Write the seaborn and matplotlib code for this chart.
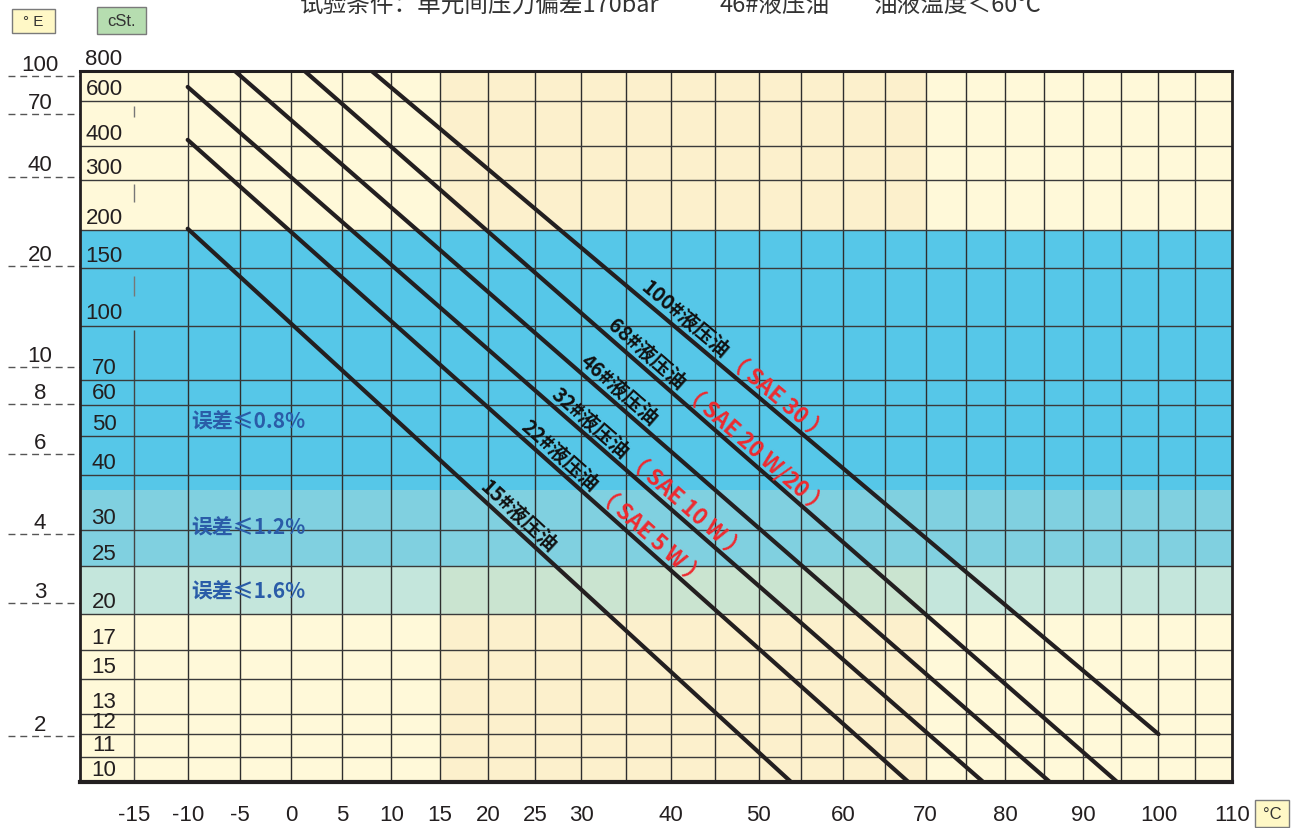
"""
Viscosity-temperature chart for hydraulic oils (ASTM style axes).
"""
import numpy as np
import pandas as pd
import matplotlib
matplotlib.use("Agg")
import matplotlib.pyplot as plt
import seaborn as sns
from matplotlib.patches import Rectangle
from matplotlib.font_manager import FontProperties

# oil lines, end points (temperature in C, viscosity in cSt)
oil_names = ["15#", "22#", "32#", "46#", "68#", "100#"]
sae_grades = ["", "SAE 5 W", "SAE 10 W", "", "SAE 20 W/20", "SAE 30"]
t_start = [-10.0, -10.0, -10.0, -5.5, 1.3, 8.0]
v_start = [202, 422, 686, 800, 800, 800]
t_end = [53.8, 67.9, 77.2, 85.7, 94.5, 100.0]
v_end = [10, 10, 10, 10, 10, 12]
label_t = [18.6, 23.0, 26.2, 29.3, 32.3, 36.0]   # where each label starts on its line

# accuracy bands (cSt)
band_low = [37, 25, 20]
band_high = [200, 37, 25]
band_text = ["误差≤0.8%", "误差≤1.2%", "误差≤1.6%"]
band_text_v = [54.6, 30.4, 22.2]

# axes
cst_grid = [10, 11, 12, 13, 15, 17, 20, 25, 30, 40, 50, 60, 70, 100, 150, 200, 300, 400, 600, 800]
engler = [100, 70, 40, 20, 10, 8, 6, 4, 3, 2]
engler_cst = [762, 533, 307, 152, 76, 60.5, 45, 29.3, 21, 11.9]
x_major = [-15, -10, -5, 0, 5, 10, 15, 20, 25, 30, 40, 50, 60, 70, 80, 90, 100, 110]
x_minor = [35, 45, 55, 65, 75, 85, 95, 105]
t_grid = list(range(-10, 110, 5))

title_parts = ["试验条件：单元间压力偏差170bar", "46#液压油", "油液温度＜60℃"]


def t_fwd(t):
    return np.log10(np.asarray(t, float) + 273.15)


def t_inv(x):
    return 10 ** np.asarray(x, float) - 273.15


def v_fwd(v):
    with np.errstate(all="ignore"):
        return np.log10(np.log10(np.asarray(v, float) + 0.7))


def v_inv(y):
    return 10 ** (10 ** np.asarray(y, float)) - 0.7


sns.set_style("white")
plt.rcParams["font.family"] = ["Liberation Sans", "Noto Sans CJK SC", "DejaVu Sans"]
CJK = ["Noto Sans CJK SC", "DejaVu Sans"]

W, H = 1294, 829
fig = plt.figure(figsize=(W / 100, H / 100), dpi=100)
ax = fig.add_axes([80 / W, 1 - 783 / H, 1152 / W, 711 / H])
ax.set_xscale("function", functions=(t_fwd, t_inv))
ax.set_yscale("function", functions=(v_fwd, v_inv))
ax.set_xlim(-20, 110)
ax.set_ylim(10, 800)

# backgrounds
yellow, stripe = "#fff9d9", "#fcf0cc"
ax.axhspan(10, 800, color=yellow, lw=0, zorder=0)
ax.fill_between([15, 70], 10, 800, color=stripe, lw=0, zorder=0.1)
for lo, hi, c in zip(band_low, band_high, ["#56c7e8", "#80d0e0", "#c4e6dc"]):
    ax.axhspan(lo, hi, color=c, lw=0, zorder=0.2)
ax.fill_between([15, 70], band_low[2], band_high[2], color="#cae4d0", lw=0, zorder=0.3)

# grid
ax.vlines(t_grid, 10, 800, color="#2e2e2e", lw=1.0, zorder=1)
ax.vlines(-15, 10, 97, color="#444444", lw=1.0, zorder=1)
ax.vlines([-15, -15, -15], [519, 250, 123], [574, 290, 142], color="#777777", lw=1.0, zorder=1)
ax.hlines(cst_grid[1:-1], -20, 110, color="#3a3a3a", lw=1.0, zorder=1)

# oil lines
lines = pd.DataFrame({
    "oil": np.repeat(oil_names, 2),
    "temp": np.ravel(np.column_stack([t_start, t_end])),
    "cst": np.ravel(np.column_stack([v_start, v_end])),
})
sns.lineplot(data=lines, x="temp", y="cst", units="oil", estimator=None, sort=False,
             color="#231f20", lw=3, ax=ax, zorder=3)
ax.set_xlabel("")
ax.set_ylabel("")

# spines
for side, lw in [("top", 2.2), ("left", 2.0), ("right", 2.0), ("bottom", 3.0)]:
    ax.spines[side].set_visible(True)
    ax.spines[side].set_linewidth(lw)
    ax.spines[side].set_color("#231f20")
    ax.spines[side].set_zorder(4)

# x ticks
ax.set_xticks(x_major, [str(v) for v in x_major])
ax.set_xticks(x_minor, minor=True)
ax.tick_params(axis="x", which="both", direction="out", length=12, width=1,
               color="#555555", labelsize=16, pad=4, labelcolor="#231f20")
ax.xaxis.get_major_ticks()[-1].tick1line.set_visible(False)
ax.set_yticks([])

# cSt labels inside left column
for v in cst_grid:
    ax.annotate(str(v), (0.0208, v), xycoords=ax.get_yaxis_transform(),
                xytext=(0, 1.5), textcoords="offset points",
                ha="center", va="bottom", fontsize=16, color="#231f20", zorder=5)

# Engler scale outside
for e, v in zip(engler, engler_cst):
    ax.plot([-0.0625, 0], [v, v], transform=ax.get_yaxis_transform(), clip_on=False,
            ls=(0, (5, 3.5)), color="#555555", lw=1)
    ax.annotate(str(e), (-0.0347, v), xycoords=ax.get_yaxis_transform(),
                xytext=(0, 1), textcoords="offset points",
                ha="center", va="bottom", fontsize=16, color="#231f20", annotation_clip=False)

# band captions
for s, v in zip(band_text, band_text_v):
    ax.text(-9.7, v, s, ha="left", va="center", fontsize=15, fontweight="bold",
            color="#2a5ca8", family=CJK, zorder=5)

# oil labels along the lines
renderer = fig.canvas.get_renderer()
fp_black = FontProperties(family=CJK, size=14.5, weight="bold")
fp_red = FontProperties(family=CJK, size=16, weight="bold")
inv = ax.transData.inverted()
for i, name in enumerate(oil_names):
    p0 = ax.transData.transform((t_start[i], v_start[i]))
    p1 = ax.transData.transform((t_end[i], v_end[i]))
    d = p1 - p0
    ang = np.arctan2(d[1], d[0])
    frac = (t_fwd(label_t[i]) - t_fwd(t_start[i])) / (t_fwd(t_end[i]) - t_fwd(t_start[i]))
    base = p0 + frac * d
    along = np.array([np.cos(ang), np.sin(ang)])
    normal = np.array([-np.sin(ang), np.cos(ang)])
    anchor = base + normal * 6
    s = name + "液压油"
    tx, ty = inv.transform(anchor)
    ax.text(tx, ty, s, fontproperties=fp_black, color="#111111", rotation=np.degrees(ang),
            rotation_mode="anchor", ha="left", va="baseline", zorder=5)
    if sae_grades[i]:
        w, _, _ = renderer.get_text_width_height_descent(s, fp_black, ismath=False)
        anchor2 = anchor + along * (w + 2)
        rx, ry = inv.transform(anchor2)
        ax.text(rx, ry, "（ " + sae_grades[i] + " ）", fontproperties=fp_red, color="#ee2a2f",
                rotation=np.degrees(ang), rotation_mode="anchor", ha="left", va="baseline", zorder=5)

# unit boxes
def unit_box(x0, y0, x1, y1, label, fc, size):
    fig.add_artist(Rectangle((x0 / W, 1 - y1 / H), (x1 - x0) / W, (y1 - y0) / H,
                             transform=fig.transFigure, fc=fc, ec="#7a7a7a", lw=1))
    fig.text((x0 + x1) / 2 / W, 1 - (y0 + y1) / 2 / H, label, ha="center", va="center",
             fontsize=size, color="#333333")

unit_box(12, 10, 55, 34, "° E", "#fff8c6", 11)
unit_box(97, 8, 146, 35, "cSt.", "#b6ddb0", 12)
unit_box(1255, 801, 1289, 828, "°C", "#fff8c6", 12)

# test conditions, cut by the top edge as in the source image
for s, x in zip(title_parts, [300, 719, 874]):
    fig.text(x / W, 1 - 12 / H, s, ha="left", va="baseline", fontsize=17,
             color="#333333", family=CJK)

fig.savefig("out.png", dpi=100)
